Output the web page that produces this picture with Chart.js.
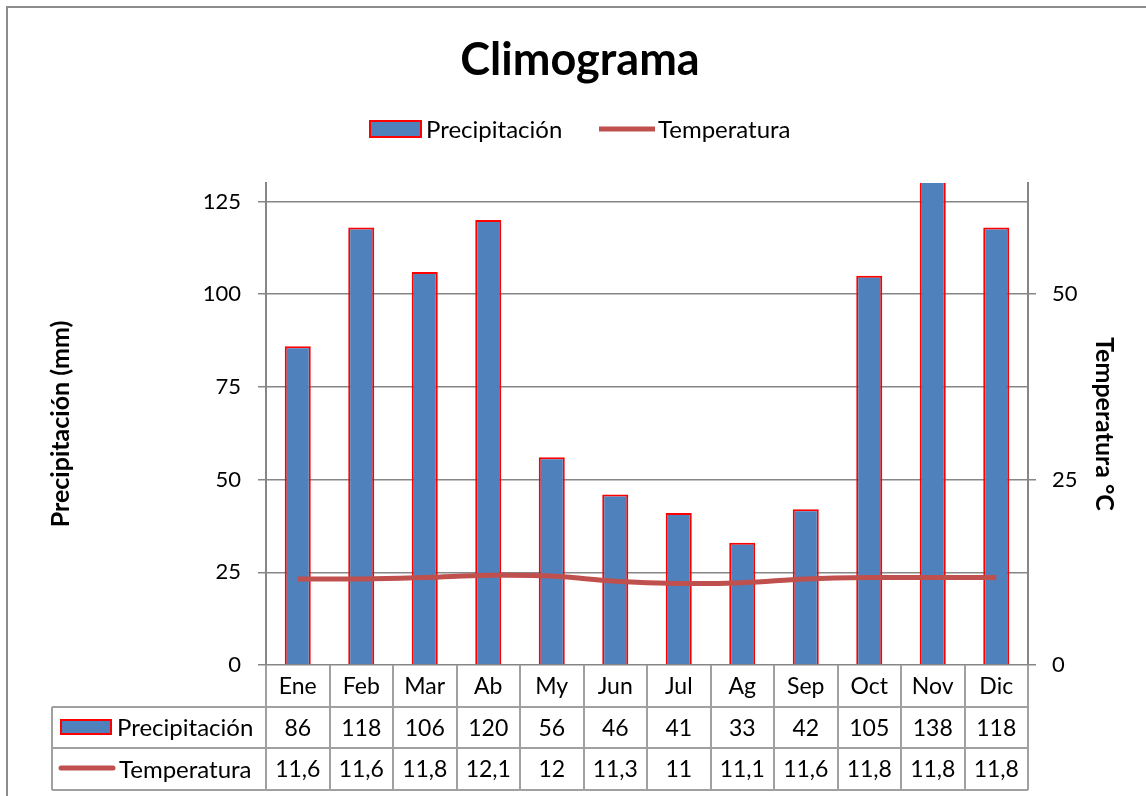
<!DOCTYPE html>
<html>
<head>
<meta charset="utf-8">
<title>Climograma</title>
<script src="https://cdn.jsdelivr.net/npm/chart.js@4"></script>
<style>
  body { margin: 0; background: #fff; }
  canvas { display: block; }
</style>
</head>
<body>
<canvas id="grafico" width="1146" height="796"></canvas>
<script>
const meses = ["Ene", "Feb", "Mar", "Ab", "My", "Jun", "Jul", "Ag", "Sep", "Oct", "Nov", "Dic"];
const precipitacion = [86, 118, 106, 120, 56, 46, 41, 33, 42, 105, 138, 118];
const temperatura = [11.6, 11.6, 11.8, 12.1, 12, 11.3, 11, 11.1, 11.6, 11.8, 11.8, 11.8];
const ticksPrec = [0, 25, 50, 75, 100, 125];
const ticksTemp = [0, 25, 50];

const FUENTE = "Lato, 'Liberation Sans', sans-serif";
const AZUL = "#4F81BD";
const ROJO = "#FF0000";
const GRANATE = "#C0504D";
const GRIS = "#868686";
const GRIS_TABLA = "#A0A0A0";

const fmt = v => String(v).replace(".", ",");

// titulo, leyenda y tabla de datos
const extras = {
  id: "extras",
  beforeDraw(chart) {
    const c = chart.ctx;
    c.save();
    c.strokeStyle = "#8c8c8c";
    c.lineWidth = 2;
    c.strokeRect(7, 7, 1160, 820);
    c.restore();
  },
  afterDraw(chart) {
    const c = chart.ctx;
    const x = chart.scales.x;
    const area = chart.chartArea;
    const ancho = (area.right - area.left) / meses.length;
    c.save();

    // titulo
    c.fillStyle = "#000";
    c.textAlign = "center";
    c.textBaseline = "middle";
    c.font = "bold 45px " + FUENTE;
    c.fillText("Climograma", 580, 60);

    // leyenda
    c.font = "24px " + FUENTE;
    c.textAlign = "left";
    c.fillStyle = AZUL;
    c.fillRect(370, 121, 51, 16);
    c.strokeStyle = ROJO;
    c.lineWidth = 2;
    c.strokeRect(370, 121, 51, 16);
    c.fillStyle = "#000";
    c.fillText("Precipitación", 426, 130);
    c.strokeStyle = GRANATE;
    c.lineWidth = 5;
    c.beginPath(); c.moveTo(599, 129); c.lineTo(655, 129); c.stroke();
    c.fillText("Temperatura", 658, 130);

    // tabla
    const y0 = area.bottom, y1 = y0 + 42, y2 = y1 + 41, y3 = y2 + 42;
    const izq = 52;
    c.strokeStyle = GRIS_TABLA;
    c.lineWidth = 2;
    c.beginPath();
    for (let i = 0; i <= meses.length; i++) {
      const px = Math.round(area.left + i * ancho);
      c.moveTo(px, y0); c.lineTo(px, y3);
    }
    [y1, y2, y3].forEach(y => { c.moveTo(izq, y); c.lineTo(area.right, y); });
    c.moveTo(izq, y1); c.lineTo(izq, y3);
    c.stroke();

    c.fillStyle = "#000";
    c.textAlign = "center";
    c.font = "23px " + FUENTE;
    meses.forEach((m, i) => {
      const px = x.getPixelForValue(i);
      c.fillText(m, px, (y0 + y1) / 2 + 1);
      c.fillText(fmt(precipitacion[i]), px, (y1 + y2) / 2 + 1);
      c.fillText(fmt(temperatura[i]), px, (y2 + y3) / 2 + 1);
    });

    // claves de la tabla
    c.fillStyle = AZUL;
    c.fillRect(61, 720, 50, 14);
    c.strokeStyle = ROJO;
    c.lineWidth = 2;
    c.strokeRect(61, 720, 50, 14);
    c.strokeStyle = GRANATE;
    c.lineWidth = 5;
    c.lineCap = "round";
    c.beginPath(); c.moveTo(61, 768); c.lineTo(113, 768); c.stroke();
    c.fillStyle = "#000";
    c.textAlign = "left";
    c.font = "24px " + FUENTE;
    c.fillText("Precipitación", 117, (y1 + y2) / 2 + 1);
    c.fillText("Temperatura", 119, (y2 + y3) / 2 + 1);
    c.restore();
  }
};

const ctx = document.getElementById("grafico").getContext("2d");
const grafico = new Chart(ctx, {
  data: {
    labels: meses,
    datasets: [
      {
        type: "bar",
        label: "Precipitación",
        data: precipitacion,
        yAxisID: "y",
        backgroundColor: AZUL,
        borderColor: ROJO,
        borderWidth: 2,
        barPercentage: 0.41,
        categoryPercentage: 1,
        order: 2
      },
      {
        type: "line",
        label: "Temperatura",
        data: temperatura,
        yAxisID: "y1",
        borderColor: GRANATE,
        borderWidth: 5,
        pointRadius: 0,
        tension: 0.4,
        order: 1
      }
    ]
  },
  options: {
    responsive: false,
    animation: false,
    layout: { padding: { left: 46, right: 27, top: 183, bottom: 131 } },
    plugins: {
      legend: { display: false },
      title: { display: false },
      tooltip: { enabled: false }
    },
    scales: {
      x: { display: false, offset: true },
      y: {
        position: "left",
        min: 0,
        max: 130,
        afterBuildTicks: s => { s.ticks = ticksPrec.map(v => ({ value: v })); },
        afterFit: s => { s.width = 220; },
        ticks: { padding: 17, color: "#000", font: { family: FUENTE, size: 22 } },
        grid: { color: GRIS, lineWidth: 1.5, tickLength: 8 },
        border: { color: GRIS, width: 2 },
        title: {
          display: true,
          text: "Precipitación (mm)",
          color: "#000",
          font: { family: FUENTE, size: 25, weight: "bold" },
          padding: 0
        }
      },
      y1: {
        position: "right",
        min: 0,
        max: 65,
        afterBuildTicks: s => { s.ticks = ticksTemp.map(v => ({ value: v })); },
        afterFit: s => { s.width = 91; },
        ticks: { padding: 16, color: "#000", font: { family: FUENTE, size: 22 } },
        grid: { drawOnChartArea: false, color: GRIS, lineWidth: 1.5, tickLength: 8 },
        border: { color: GRIS, width: 2 },
        title: {
          display: true,
          text: "Temperatura °C",
          color: "#000",
          font: { family: FUENTE, size: 25, weight: "bold" },
          padding: 0
        }
      }
    }
  },
  plugins: [extras]
});
</script>
</body>
</html>
